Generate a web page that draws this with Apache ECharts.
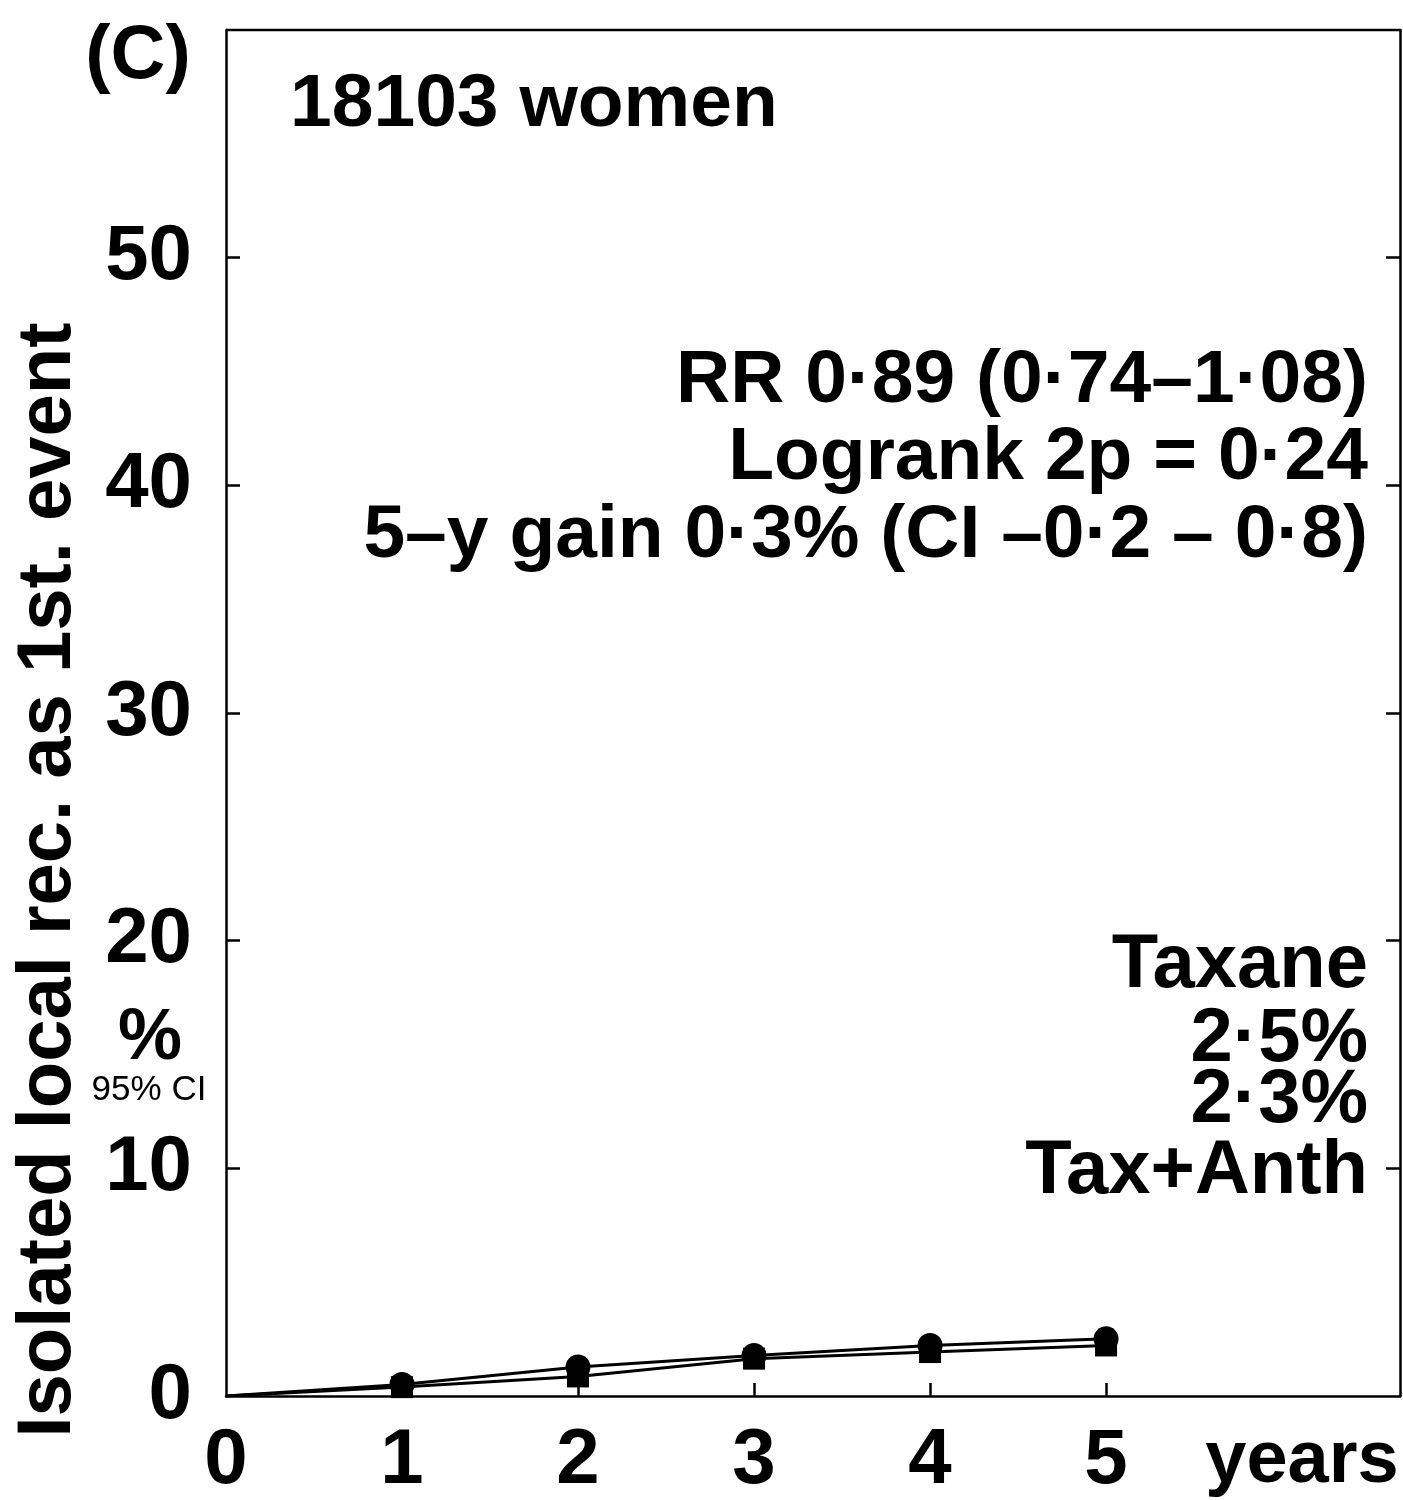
<!DOCTYPE html>
<html>
<head>
<meta charset="utf-8">
<script src="https://cdn.jsdelivr.net/npm/echarts@6/dist/echarts.min.js"></script>
<style>
html,body{margin:0;padding:0;background:#fff;}
#chart{width:1403px;height:1500px;}
</style>
</head>
<body>
<div id="chart"></div>
<script>
// Data
var years = [0, 1, 2, 3, 4, 5];
var taxane = [0, 0.51, 1.27, 1.78, 2.22, 2.51];
var taxAnth = [0, 0.39, 0.86, 1.64, 1.93, 2.22];
var xTickLabels = [0, 1, 2, 3, 4, 5];
var yTickLabels = [0, 10, 20, 30, 40, 50];
var panelLabel = '(C)';
var womenLabel = '18103 women';
var statsLines = ['RR 0·89 (0·74–1·08)', 'Logrank 2p = 0·24', '5–y gain 0·3% (CI –0·2 – 0·8)'];
var legendLines = ['Taxane', '2·5%', '2·3%', 'Tax+Anth'];
var yTitle = 'Isolated local rec. as 1st. event';

var FONT = '"Liberation Sans", Arial, Helvetica, sans-serif';
var chart = echarts.init(document.getElementById('chart'), null, {renderer: 'canvas'});

function pairs(arr) {
  return years.map(function (x, i) {
    return i === 0 ? {value: [x, arr[i]], symbol: 'none'} : [x, arr[i]];
  });
}

function txt(x, y, text, size, align, weight, extra) {
  var o = {
    type: 'text', x: x, y: y, z: 10,
    style: {
      text: text, fill: '#000', font: (weight || 'bold') + ' ' + size + 'px ' + FONT,
      textAlign: align || 'left', textVerticalAlign: 'middle'
    }
  };
  if (extra) for (var k in extra) o[k] = extra[k];
  return o;
}

var graphics = [
  txt(138, 57, panelLabel, 76, 'center'),
  txt(290, 105, womenLabel, 75, 'left'),
  txt(1368, 381, statsLines[0], 75, 'right'),
  txt(1368, 458, statsLines[1], 75, 'right'),
  txt(1368, 536, statsLines[2], 75, 'right'),
  txt(1368, 966, legendLines[0], 76, 'right'),
  txt(1368, 1040, legendLines[1], 76, 'right'),
  txt(1368, 1101, legendLines[2], 76, 'right'),
  txt(1368, 1172, legendLines[3], 76, 'right'),
  txt(1302, 1462, 'years', 74, 'center'),
  txt(150, 1039, '%', 72, 'center'),
  txt(149, 1090, '95% CI', 35, 'center', 'normal'),
  txt(49, 880, yTitle, 76, 'center', 'bold', {rotation: Math.PI / 2}),
  {type: 'line', z: 5, shape: {x1: 226, y1: 30, x2: 1400, y2: 30}, style: {stroke: '#000', lineWidth: 2.5}}
];

var option = {
  backgroundColor: '#fff',
  animation: false,
  grid: {left: 226, top: 30, right: 3, bottom: 101, containLabel: false},
  xAxis: {
    type: 'value', min: 0, max: 6.67, interval: 1,
    axisLine: {show: true, onZero: false, lineStyle: {color: '#000', width: 2.5}},
    axisTick: {show: true, inside: true, length: 13, lineStyle: {color: '#000', width: 2.5}, customValues: [1, 2, 3, 4, 5]},
    axisLabel: {show: true, customValues: xTickLabels, margin: 26, color: '#000', fontSize: 78, fontWeight: 'bold', fontFamily: FONT},
    splitLine: {show: false}
  },
  yAxis: [{
    type: 'value', min: 0, max: 60, interval: 10,
    axisLine: {show: true, lineStyle: {color: '#000', width: 2.5}},
    axisTick: {show: true, inside: true, length: 14, lineStyle: {color: '#000', width: 2.5}, customValues: [10, 20, 30, 40, 50]},
    axisLabel: {show: true, customValues: yTickLabels, margin: 34, color: '#000', fontSize: 78, fontWeight: 'bold', fontFamily: FONT},
    splitLine: {show: false}
  }, {
    type: 'value', min: 0, max: 60, interval: 10, position: 'right',
    axisLine: {show: true, lineStyle: {color: '#000', width: 2.5}},
    axisTick: {show: true, inside: true, length: 14, lineStyle: {color: '#000', width: 2.5}, customValues: [10, 20, 30, 40, 50]},
    axisLabel: {show: false},
    splitLine: {show: false}
  }],
  series: [{
    name: 'Tax+Anth', type: 'line', data: pairs(taxAnth),
    symbol: 'rect', symbolSize: 22, showAllSymbol: true,
    lineStyle: {color: '#000', width: 3}, itemStyle: {color: '#000'},
    z: 3
  }, {
    name: 'Taxane', type: 'line', data: pairs(taxane),
    symbol: 'circle', symbolSize: 25, showAllSymbol: true,
    lineStyle: {color: '#000', width: 3}, itemStyle: {color: '#000'},
    z: 4
  }],
  graphic: graphics
};
chart.setOption(option);
</script>
</body>
</html>
